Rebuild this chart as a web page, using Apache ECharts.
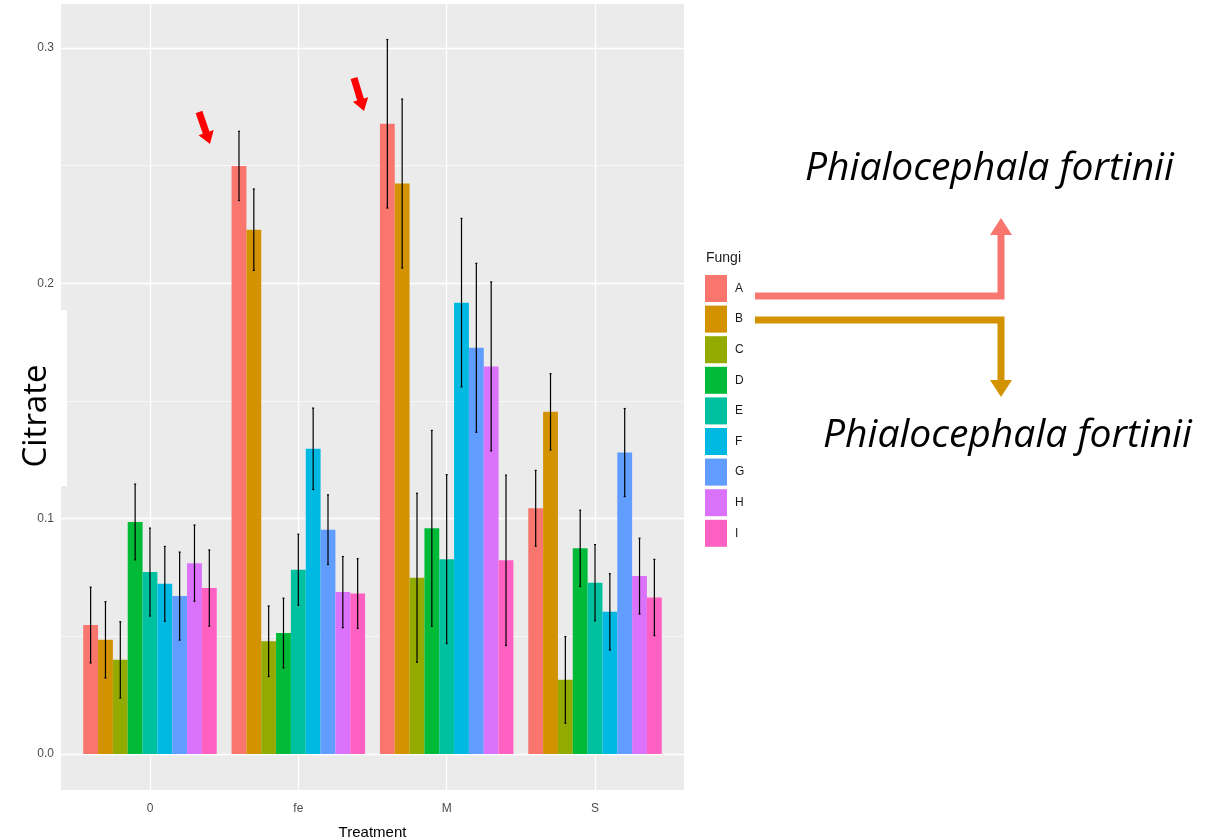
<!DOCTYPE html>
<html>
<head>
<meta charset="utf-8">
<script src="https://cdn.jsdelivr.net/npm/echarts@6/dist/echarts.min.js"></script>
<style>
  html, body { margin: 0; padding: 0; background: #fff; }
  #chart { width: 1217px; height: 840px; }
</style>
</head>
<body>
<div id="chart"></div>
<script>
// treatments on the x axis, fungi as dodged bars
var treatments = ['0', 'fe', 'M', 'S'];
var fungi = ['A', 'B', 'C', 'D', 'E', 'F', 'G', 'H', 'I'];
var fungiColors = ['#F8766D', '#D39200', '#93AA00', '#00BA38', '#00C19F', '#00B9E3', '#619CFF', '#DB72FB', '#FF61C3'];

// mean citrate per fungus, in treatment order
var citrateA = [0.0548, 0.2499, 0.2678, 0.1044];
var citrateB = [0.0485, 0.2228, 0.2424, 0.1454];
var citrateC = [0.0400, 0.0479, 0.0749, 0.0315];
var citrateD = [0.0986, 0.0514, 0.0959, 0.0874];
var citrateE = [0.0773, 0.0783, 0.0828, 0.0728];
var citrateF = [0.0723, 0.1297, 0.1918, 0.0604];
var citrateG = [0.0671, 0.0953, 0.1726, 0.1281];
var citrateH = [0.0811, 0.0688, 0.1647, 0.0756];
var citrateI = [0.0705, 0.0682, 0.0823, 0.0665];

// error bar half widths
var errA = [0.0161, 0.0147, 0.0358, 0.0161];
var errB = [0.0162, 0.0173, 0.0359, 0.0162];
var errC = [0.0162, 0.0150, 0.0359, 0.0184];
var errD = [0.0161, 0.0148, 0.0416, 0.0162];
var errE = [0.0187, 0.0151, 0.0359, 0.0162];
var errF = [0.0159, 0.0173, 0.0358, 0.0162];
var errG = [0.0187, 0.0148, 0.0359, 0.0187];
var errH = [0.0162, 0.0151, 0.0359, 0.0161];
var errI = [0.0162, 0.0148, 0.0362, 0.0162];

var yTicks = [0, 0.1, 0.2, 0.3];
var yMinorGrid = [0.05, 0.15, 0.25];
var yMin = -0.0153, yMax = 0.3187;

var means = [citrateA, citrateB, citrateC, citrateD, citrateE, citrateF, citrateG, citrateH, citrateI];
var errs = [errA, errB, errC, errD, errE, errF, errG, errH, errI];

var narrow = "'Liberation Sans Narrow', 'Liberation Sans', Arial, sans-serif";

var chart = echarts.init(document.getElementById('chart'));

function errorRenderer(idx) {
    return function (params, api) {
        var c = api.value(0);
        var lo = api.coord([c, api.value(1)]);
        var hi = api.coord([c, api.value(2)]);
        var band = api.size([1, 0])[0];
        var barW = band * 0.9 / fungi.length;
        var x = lo[0] + (idx - (fungi.length - 1) / 2) * barW;
        var st = {stroke: '#000', lineWidth: 1.2};
        return {
            type: 'group',
            children: [
                {type: 'line', shape: {x1: x, y1: hi[1], x2: x, y2: lo[1]}, style: st},
                {type: 'line', shape: {x1: x - 1, y1: hi[1], x2: x + 1, y2: hi[1]}, style: st},
                {type: 'line', shape: {x1: x - 1, y1: lo[1], x2: x + 1, y2: lo[1]}, style: st}
            ]
        };
    };
}

// block arrow polygon from start to tip
function blockArrow(x0, y0, x1, y1, shaft, head, headLen) {
    var dx = x1 - x0, dy = y1 - y0;
    var len = Math.sqrt(dx * dx + dy * dy);
    var ux = dx / len, uy = dy / len, px = -uy, py = ux;
    var bx = x1 - ux * headLen, by = y1 - uy * headLen;
    var s = shaft / 2, h = head / 2;
    return [
        [x0 + px * s, y0 + py * s], [bx + px * s, by + py * s], [bx + px * h, by + py * h],
        [x1, y1],
        [bx - px * h, by - py * h], [bx - px * s, by - py * s], [x0 - px * s, y0 - py * s]
    ];
}

var series = [];

// helper series for the panel grid lines
series.push({
    type: 'line',
    xAxisIndex: 0,
    yAxisIndex: 0,
    data: [],
    silent: true,
    markLine: {
        z: 1,
        silent: true,
        symbol: 'none',
        label: {show: false},
        animation: false,
        data: []
            .concat(yMinorGrid.map(function (v) { return {yAxis: v, lineStyle: {color: '#fff', width: 0.6, type: 'solid'}}; }))
            .concat(yTicks.map(function (v) { return {yAxis: v, lineStyle: {color: '#fff', width: 1.3, type: 'solid'}}; }))
            .concat(treatments.map(function (t, i) { return {xAxis: i, lineStyle: {color: '#fff', width: 1.3, type: 'solid'}}; }))
    }
});

fungi.forEach(function (f, i) {
    series.push({
        name: f,
        type: 'bar',
        xAxisIndex: 1,
        yAxisIndex: 1,
        barGap: '0%',
        barCategoryGap: '10%',
        itemStyle: {color: fungiColors[i]},
        data: means[i]
    });
});

fungi.forEach(function (f, i) {
    series.push({
        name: f + ' se',
        type: 'custom',
        xAxisIndex: 1,
        yAxisIndex: 1,
        z: 3,
        renderItem: errorRenderer(i),
        encode: {x: 0, y: [1, 2]},
        data: means[i].map(function (m, k) {
            return [k, m - errs[i][k], m + errs[i][k]];
        })
    });
});

var option = {
    backgroundColor: '#fff',
    animation: false,
    grid: [
        {left: 61, right: 533, top: 4, bottom: 50, show: true, backgroundColor: '#EBEBEB', borderWidth: 0, outerBoundsMode: 'none'},
        {left: 75.8, right: 547.8, top: 4, bottom: 50, outerBoundsMode: 'none'}
    ],
    xAxis: [
        {
            type: 'value', gridIndex: 0, min: -0.6, max: 3.6,
            axisLine: {show: false}, axisTick: {show: false}, axisLabel: {show: false}, splitLine: {show: false}
        },
        {
            type: 'category', gridIndex: 1, data: treatments,
            name: 'Treatment', nameLocation: 'middle', nameGap: 35,
            nameTextStyle: {fontSize: 15, color: '#000', fontFamily: narrow},
            axisLine: {show: false},
            axisTick: {show: true, alignWithLabel: true, length: 4, lineStyle: {color: '#333'}},
            axisLabel: {margin: 13, fontSize: 12, color: '#4D4D4D', fontFamily: narrow},
            splitLine: {show: false}
        }
    ],
    yAxis: [
        {
            type: 'value', gridIndex: 0, min: yMin, max: yMax,
            axisLine: {show: false},
            axisTick: {show: true, length: 4, customValues: yTicks, lineStyle: {color: '#333'}},
            axisLabel: {
                margin: 7, fontSize: 12, color: '#4D4D4D', fontFamily: narrow,
                customValues: yTicks,
                formatter: function (v) { return v.toFixed(1); }
            },
            splitLine: {show: false}
        },
        {
            type: 'value', gridIndex: 1, min: yMin, max: yMax, show: false,
            splitLine: {show: false}
        }
    ],
    legend: {
        orient: 'vertical',
        left: 705,
        top: 275,
        padding: 0,
        itemWidth: 22,
        itemHeight: 27,
        itemGap: 3.6,
        icon: 'rect',
        selectedMode: false,
        textStyle: {fontSize: 12, color: '#1a1a1a', fontFamily: narrow, padding: [0, 0, 0, 3]},
        data: fungi
    },
    graphic: [
        // white patch behind the y title
        {type: 'rect', z: 10, shape: {x: 0, y: 310, width: 67, height: 176}, style: {fill: '#fff'}},
        {type: 'text', z: 11, x: 37, y: 416, rotation: Math.PI / 2,
            style: {text: 'Citrate', fontSize: 33, fontFamily: "'Open Sans', sans-serif", fill: '#000', align: 'center', verticalAlign: 'middle'}},
        {type: 'text', z: 11, left: 706, top: 251,
            style: {text: 'Fungi', fontSize: 14, fontFamily: narrow, fill: '#1a1a1a'}},
        // connectors to the species labels
        {type: 'polyline', z: 11, shape: {points: [[755, 296], [1001, 296], [1001, 234]]},
            style: {stroke: '#F8766D', lineWidth: 7, fill: null, lineJoin: 'miter'}},
        {type: 'polygon', z: 11, shape: {points: [[990, 235], [1012, 235], [1001, 218]]}, style: {fill: '#F8766D'}},
        {type: 'polyline', z: 11, shape: {points: [[755, 320], [1001, 320], [1001, 382]]},
            style: {stroke: '#D39200', lineWidth: 7, fill: null, lineJoin: 'miter'}},
        {type: 'polygon', z: 11, shape: {points: [[990, 380], [1012, 380], [1001, 397]]}, style: {fill: '#D39200'}},
        {type: 'text', z: 11, x: 805, y: 169,
            style: {text: 'Phialocephala fortinii', fontSize: 39, fontStyle: 'italic', fontFamily: "'Open Sans', sans-serif", fill: '#000', verticalAlign: 'middle'}},
        {type: 'text', z: 11, x: 823, y: 436,
            style: {text: 'Phialocephala fortinii', fontSize: 39, fontStyle: 'italic', fontFamily: "'Open Sans', sans-serif", fill: '#000', verticalAlign: 'middle'}},
        // red pointers at the two tallest bars
        {type: 'polygon', z: 11, shape: {points: blockArrow(199, 112, 210, 144, 7, 16, 12)}, style: {fill: '#FF0000'}},
        {type: 'polygon', z: 11, shape: {points: blockArrow(354, 78, 364, 111, 7, 16, 12)}, style: {fill: '#FF0000'}}
    ],
    series: series
};
chart.setOption(option);
</script>
</body>
</html>
